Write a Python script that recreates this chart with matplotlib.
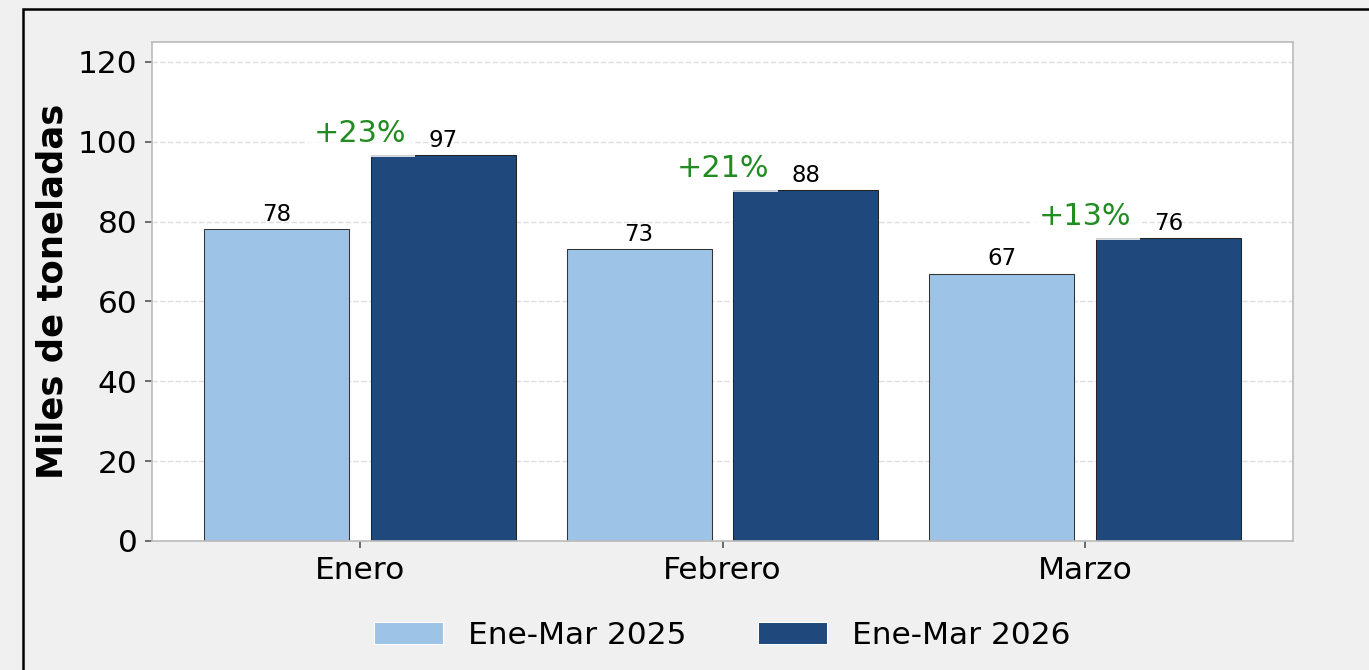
import numpy as np
import matplotlib.pyplot as plt
from matplotlib.patches import Rectangle

meses = ['Enero', 'Febrero', 'Marzo']
ventas_2025 = [78.2, 73.1, 67.0]
ventas_2026 = [96.6, 88.0, 75.8]
etiq_2025 = ['78', '73', '67']
etiq_2026 = ['97', '88', '76']
variacion = ['+23%', '+21%', '+13%']
series = ['Ene-Mar 2025', 'Ene-Mar 2026']

fig = plt.figure(figsize=(1369 / 150, 670 / 150), dpi=150, facecolor='#f0f0f0')
ax = fig.add_axes([152 / 1369, 129 / 670, 1141 / 1369, 499 / 670])

# marco negro de la figura
fig.patches.append(Rectangle((23 / 1369, -0.1), 1.2, 1.1 - 9 / 670, transform=fig.transFigure,
                             fill=False, edgecolor='black', linewidth=1.2, zorder=0))

x = np.arange(len(meses))
w = 0.4
b1 = ax.bar(x - 0.23, ventas_2025, w, color='#9dc3e6', edgecolor='#333333', linewidth=0.5,
            label=series[0], zorder=2)
b2 = ax.bar(x + 0.23, ventas_2026, w, color='#1f497d', edgecolor='#222222', linewidth=0.5,
            label=series[1], zorder=2)

for bars, labs in [(b1, etiq_2025), (b2, etiq_2026)]:
    for rect, lab in zip(bars, labs):
        ax.annotate(lab, (rect.get_x() + rect.get_width() / 2, rect.get_height()),
                    xytext=(0, 1.5), textcoords='offset points', ha='center', va='bottom',
                    fontsize=11, zorder=4)

for i, txt in enumerate(variacion):
    ax.text(x[i], ventas_2026[i] + 1.8, txt, ha='center', va='bottom', fontsize=14.5,
            color='#228b22', zorder=3,
            bbox=dict(boxstyle='square,pad=0.3', facecolor='white', edgecolor='none', alpha=0.8))

ax.set_xlim(-0.574, 2.574)
ax.set_ylim(0, 125)
ax.set_yticks([0, 20, 40, 60, 80, 100, 120])
ax.set_xticks(x)
ax.set_xticklabels(meses)
ax.tick_params(labelsize=15, colors='#555555', labelcolor='black')
ax.set_ylabel('Miles de toneladas', fontsize=17, fontweight='bold', labelpad=4)
ax.yaxis.grid(True, linestyle='--', color='#e0e0e0', linewidth=0.7, zorder=0)
ax.set_axisbelow(True)
for s in ax.spines.values():
    s.set_color('#bbbbbb')

leg = ax.legend(loc='center', bbox_to_anchor=(0.5, -0.19), ncol=2, frameon=False, fontsize=15,
                handlelength=2.2, handletextpad=0.8, columnspacing=2.3)
for h in leg.legend_handles:
    h.set_edgecolor('white')
    h.set_linewidth(0.5)

fig.savefig('out.png', dpi=150, facecolor=fig.get_facecolor())
